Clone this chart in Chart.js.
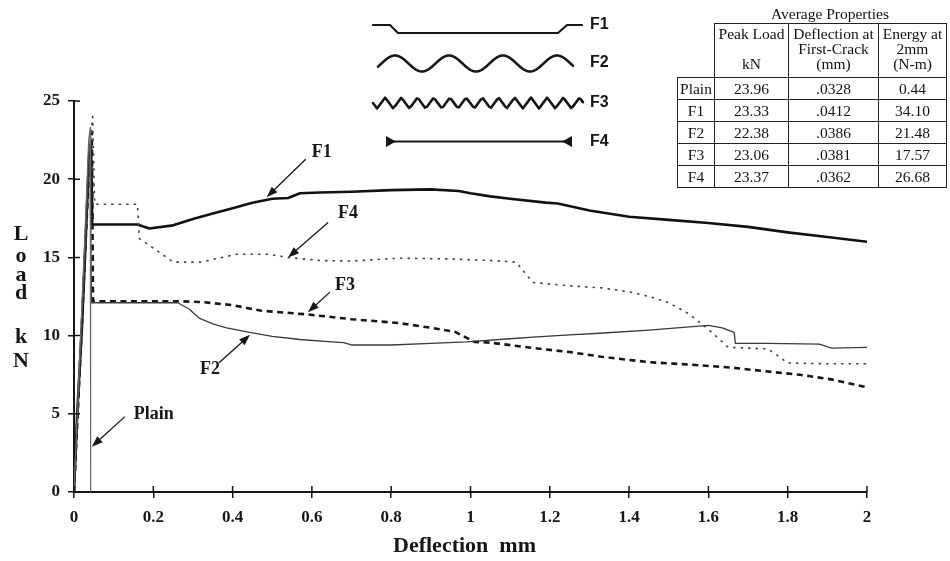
<!DOCTYPE html>
<html>
<head>
<meta charset="utf-8">
<title>Load vs Deflection</title>
<script src="https://cdn.jsdelivr.net/npm/chart.js@4.4.1/dist/chart.umd.min.js"></script>
<style>
  html, body { margin: 0; padding: 0; background: #fff; }
  #wrap { position: relative; width: 950px; height: 561px; }
  #wrap canvas { position: absolute; left: 0; top: 0; }
  .props-title {
    position: absolute; left: 714px; top: 5px; width: 232px;
    text-align: center; font: 15.5px "Liberation Serif", serif; color: #111;
  }
  table.props {
    position: absolute; left: 677px; top: 23px;
    border-collapse: collapse; table-layout: fixed;
    font: 15.5px "Liberation Serif", serif; color: #111;
  }
  table.props td {
    border: 1.5px solid #222; padding: 0; text-align: center;
    height: 21px; line-height: 21px; white-space: nowrap;
  }
  table.props tr.head td { height: 51px; vertical-align: top; line-height: 15px; padding-top: 2px; }
  table.props td.blank { border-top: none; border-left: none; }
</style>
</head>
<body>
<div id="wrap">
  <canvas id="chart" width="950" height="561"></canvas>
  <div class="props-title">Average Properties</div>
  <table class="props" id="props">
    <colgroup><col style="width:37px"><col style="width:74px"><col style="width:90px"><col style="width:68px"></colgroup>
    <tr class="head">
      <td class="blank"></td>
      <td>Peak Load<br>&nbsp;<br>kN</td>
      <td>Deflection at<br>First-Crack<br>(mm)</td>
      <td>Energy at<br>2mm<br>(N-m)</td>
    </tr>
  </table>
</div>
<script>
// deflection (mm) / load (kN) traces
const plainX = [0, 0.010, 0.020, 0.030, 0.037, 0.041, 0.042];
const plainY = [0, 6.0, 12.0, 18.0, 22.5, 23.3, 0];

const f1X = [0, 0.008, 0.020, 0.030, 0.038, 0.043, 0.046, 0.100, 0.160, 0.190, 0.250, 0.300, 0.350, 0.400,
  0.450, 0.500, 0.540, 0.570, 0.620, 0.700, 0.800, 0.900, 0.970, 1.000, 1.050, 1.100, 1.190, 1.220,
  1.300, 1.400, 1.500, 1.600, 1.700, 1.800, 1.900, 2.000];
const f1Y = [0, 5.0, 10.5, 16.5, 21.5, 22.3, 17.1, 17.1, 17.1, 16.85, 17.05, 17.45, 17.8, 18.15,
  18.5, 18.75, 18.8, 19.1, 19.15, 19.2, 19.3, 19.35, 19.25, 19.1, 18.9, 18.75, 18.5, 18.45,
  18.0, 17.6, 17.4, 17.2, 16.95, 16.6, 16.3, 16.0];

const f2X = [0, 0.010, 0.020, 0.030, 0.040, 0.044, 0.100, 0.200, 0.262, 0.290, 0.317, 0.350, 0.385,
  0.443, 0.500, 0.570, 0.650, 0.680, 0.700, 0.800, 0.900, 0.990, 1.100, 1.157, 1.250, 1.325,
  1.450, 1.600, 1.635, 1.665, 1.668, 1.750, 1.880, 1.910, 2.000];
const f2Y = [0, 5.5, 11.0, 16.5, 22.2, 12.1, 12.1, 12.1, 12.1, 11.7, 11.1, 10.75, 10.5,
  10.2, 9.95, 9.75, 9.6, 9.55, 9.4, 9.4, 9.5, 9.6, 9.8, 9.9, 10.05, 10.15,
  10.35, 10.65, 10.5, 10.2, 9.5, 9.5, 9.45, 9.2, 9.25];

const f3X = [0, 0.010, 0.020, 0.030, 0.040, 0.045, 0.048, 0.100, 0.200, 0.260, 0.320, 0.400, 0.470,
  0.590, 0.700, 0.820, 0.900, 0.960, 1.010, 1.050, 1.160, 1.250, 1.330, 1.450, 1.550, 1.660,
  1.750, 1.830, 1.910, 2.000];
const f3Y = [0, 5.3, 10.8, 16.4, 21.8, 23.0, 12.2, 12.2, 12.2, 12.2, 12.15, 11.95, 11.6,
  11.35, 11.05, 10.8, 10.5, 10.25, 9.6, 9.55, 9.2, 8.95, 8.65, 8.3, 8.15, 7.95,
  7.7, 7.5, 7.2, 6.7];

const f4X = [0, 0.010, 0.020, 0.030, 0.040, 0.047, 0.052, 0.100, 0.160, 0.165, 0.200, 0.250, 0.320,
  0.410, 0.490, 0.540, 0.620, 0.700, 0.820, 0.950, 1.050, 1.115, 1.157, 1.240, 1.330, 1.400,
  1.450, 1.500, 1.550, 1.600, 1.650, 1.750, 1.770, 1.800, 1.900, 2.000];
const f4Y = [0, 5.5, 11.0, 16.8, 22.0, 24.0, 18.4, 18.4, 18.4, 16.2, 15.6, 14.7, 14.7,
  15.2, 15.2, 15.0, 14.8, 14.77, 14.95, 14.9, 14.8, 14.7, 13.4, 13.2, 13.05, 12.8,
  12.5, 12.1, 11.4, 10.4, 9.25, 9.15, 8.8, 8.25, 8.2, 8.2];

const xTicks = [0, 0.2, 0.4, 0.6, 0.8, 1, 1.2, 1.4, 1.6, 1.8, 2];
const xTickLabels = ['0', '0.2', '0.4', '0.6', '0.8', '1', '1.2', '1.4', '1.6', '1.8', '2'];
const yTicks = [0, 5, 10, 15, 20, 25];

// table of average properties
const specimens = ['Plain', 'F1', 'F2', 'F3', 'F4'];
const peakLoad = ['23.96', '23.33', '22.38', '23.06', '23.37'];
const crackDeflection = ['.0328', '.0412', '.0386', '.0381', '.0362'];
const energy2mm = ['0.44', '34.10', '21.48', '17.57', '26.68'];

const table = document.getElementById('props');
specimens.forEach((name, i) => {
  const tr = document.createElement('tr');
  [name, peakLoad[i], crackDeflection[i], energy2mm[i]].forEach(v => {
    const td = document.createElement('td');
    td.textContent = v;
    tr.appendChild(td);
  });
  table.appendChild(tr);
});

const pts = (xs, ys) => xs.map((x, i) => ({ x: x, y: ys[i] }));

const SERIF = '"Liberation Serif", "Times New Roman", serif';
const SANS = '"Liberation Sans", Arial, sans-serif';
const INK = '#161616';

function arrow(ctx, x1, y1, x2, y2) {
  const a = Math.atan2(y2 - y1, x2 - x1), len = 11, w = 4;
  ctx.beginPath();
  ctx.moveTo(x1, y1);
  ctx.lineTo(x2 - Math.cos(a) * len * 0.7, y2 - Math.sin(a) * len * 0.7);
  ctx.stroke();
  ctx.beginPath();
  ctx.moveTo(x2, y2);
  ctx.lineTo(x2 - len * Math.cos(a) + w * Math.sin(a), y2 - len * Math.sin(a) - w * Math.cos(a));
  ctx.lineTo(x2 - len * Math.cos(a) - w * Math.sin(a), y2 - len * Math.sin(a) + w * Math.cos(a));
  ctx.closePath();
  ctx.fill();
}

// arrows point at a spot on each curve; tail and label are offsets in px
const callouts = [
  { text: 'F1', at: [0.486, 18.85], tail: [39, -38], label: [55, -45] },
  { text: 'F4', at: [0.540, 15.0], tail: [40, -35], label: [60, -44] },
  { text: 'F3', at: [0.590, 11.5], tail: [22, -20], label: [37, -27] },
  { text: 'F2', at: [0.444, 10.05], tail: [-31, 28], label: [-40, 35] },
  { text: 'Plain', at: [0.045, 2.9], tail: [33, -30], label: [62, -32] }
];

// zigzag helper for the crimped fibre sketch
const tri = t => { const f = t - Math.floor(t); return f < 0.5 ? 4 * f - 1 : 3 - 4 * f; };

const decorations = {
  id: 'decorations',
  afterDraw(chart) {
    const ctx = chart.ctx;
    const xs = chart.scales.x, ys = chart.scales.y;
    const x0 = xs.getPixelForValue(0), y0 = ys.getPixelForValue(0);
    ctx.save();
    ctx.strokeStyle = INK;
    ctx.fillStyle = INK;

    // tick marks cross the axis: inner halves
    ctx.lineWidth = 1.5;
    ctx.beginPath();
    xTicks.forEach(v => {
      const p = xs.getPixelForValue(v);
      ctx.moveTo(p, y0); ctx.lineTo(p, y0 - 6);
    });
    yTicks.forEach(v => {
      const p = ys.getPixelForValue(v);
      ctx.moveTo(x0, p); ctx.lineTo(x0 + 6, p);
    });
    ctx.stroke();

    // axis titles
    ctx.font = 'bold 22px ' + SERIF;
    ctx.textAlign = 'center';
    ctx.textBaseline = 'middle';
    ctx.fillText('Deflection  mm', (xs.left + xs.right) / 2 - 6, 546);
    const letters = ['L', 'o', 'a', 'd', 'k', 'N'];
    const rows = [234, 256, 275, 293, 337, 361];
    letters.forEach((c, i) => ctx.fillText(c, 21, rows[i]));

    // callouts
    ctx.lineWidth = 1.3;
    ctx.font = 'bold 18px ' + SERIF;
    callouts.forEach(c => {
      const tx = xs.getPixelForValue(c.at[0]), ty = ys.getPixelForValue(c.at[1]);
      arrow(ctx, tx + c.tail[0], ty + c.tail[1], tx, ty);
      ctx.fillText(c.text, tx + c.label[0], ty + c.label[1]);
    });

    // fibre shapes
    ctx.lineWidth = 2.2;
    ctx.lineJoin = 'round';
    ctx.lineCap = 'round';
    ctx.beginPath();
    ctx.moveTo(373, 25); ctx.lineTo(390, 25); ctx.lineTo(398, 33);
    ctx.lineTo(558, 33); ctx.lineTo(567, 25); ctx.lineTo(582, 25);
    ctx.stroke();

    ctx.lineWidth = 2.6;
    ctx.beginPath();
    for (let x = 378; x <= 573; x += 1) {
      const y = 63.5 - 8 * Math.cos(2 * Math.PI * (x - 395) / 54);
      if (x === 378) ctx.moveTo(x, y); else ctx.lineTo(x, y);
    }
    ctx.stroke();

    ctx.lineWidth = 2.6;
    ctx.beginPath();
    for (let x = 373; x <= 583; x += 2) {
      const y = 103 + 5.5 * tri((x - 373) / 16.2 + 0.25);
      if (x === 373) ctx.moveTo(x, y); else ctx.lineTo(x, y);
    }
    ctx.stroke();

    ctx.lineWidth = 2;
    ctx.beginPath();
    ctx.moveTo(390, 141.5); ctx.lineTo(568, 141.5);
    ctx.stroke();
    ctx.beginPath();
    ctx.moveTo(386, 136); ctx.lineTo(386, 147); ctx.lineTo(396, 141.5); ctx.closePath();
    ctx.moveTo(572, 136); ctx.lineTo(572, 147); ctx.lineTo(562, 141.5); ctx.closePath();
    ctx.fill();

    ctx.font = 'bold 16px ' + SANS;
    ctx.textAlign = 'left';
    ['F1', 'F2', 'F3', 'F4'].forEach((t, i) => ctx.fillText(t, 590, [25, 63, 103, 142][i]));
    ctx.restore();
  }
};

const line = (label, xs, ys, color, width, dash) => ({
  label: label,
  data: pts(xs, ys),
  borderColor: color,
  borderWidth: width,
  borderDash: dash,
  borderJoinStyle: 'round',
  pointRadius: 0,
  tension: 0,
  fill: false
});

new Chart(document.getElementById('chart'), {
  type: 'line',
  data: {
    datasets: [
      line('Plain', plainX, plainY, '#6a6a6a', 1.2, []),
      line('F2', f2X, f2Y, '#3a3a3a', 1.3, []),
      line('F4', f4X, f4Y, '#444', 1.6, [2.5, 5]),
      line('F3', f3X, f3Y, '#161616', 2.6, [6, 4.5]),
      line('F1', f1X, f1Y, '#111', 2.6, [])
    ]
  },
  options: {
    responsive: false,
    animation: false,
    layout: { padding: { top: 101, right: 83, left: 0, bottom: 0 } },
    plugins: { legend: { display: false }, tooltip: { enabled: false } },
    scales: {
      x: {
        type: 'linear', min: 0, max: 2,
        afterFit(scale) { scale.height = 69; },
        afterBuildTicks(scale) { scale.ticks = xTicks.map(v => ({ value: v })); },
        grid: { drawOnChartArea: false, drawTicks: true, tickLength: 6, color: INK, lineWidth: 1.5 },
        border: { display: true, color: INK, width: 2 },
        ticks: {
          color: INK, padding: 9, maxRotation: 0,
          font: { family: SERIF, size: 17, weight: 'bold' },
          callback: (v, i) => xTickLabels[i]
        }
      },
      y: {
        type: 'linear', min: 0, max: 25,
        afterFit(scale) { scale.width = 74; },
        afterBuildTicks(scale) { scale.ticks = yTicks.map(v => ({ value: v })); },
        grid: { drawOnChartArea: false, drawTicks: true, tickLength: 6, color: INK, lineWidth: 1.5 },
        border: { display: true, color: INK, width: 2 },
        ticks: { color: INK, padding: 8, font: { family: SERIF, size: 17, weight: 'bold' } }
      }
    }
  },
  plugins: [decorations]
});
</script>
</body>
</html>
